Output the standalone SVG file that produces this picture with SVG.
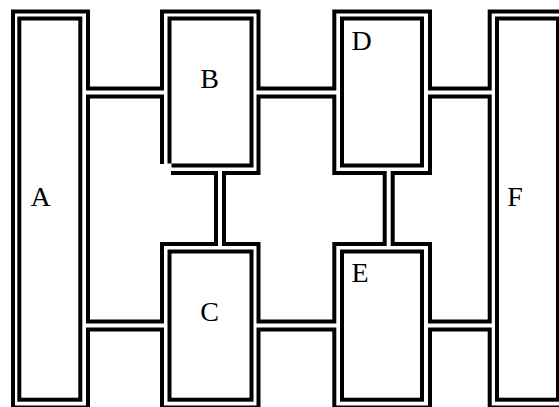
<svg xmlns="http://www.w3.org/2000/svg" width="559" height="407" viewBox="0 0 559 407">
<style>
.w{fill:none;stroke:#000;stroke-width:4;stroke-linejoin:miter}
.t{font-family:"Liberation Serif","Times New Roman",serif;font-size:28px;fill:#000}
</style>
<rect width="559" height="407" fill="#fff"/>
<g id="connectors" class="w">
<path d="M560,11.5 H489.7 V88.5 H430 V11.5 H334.3 V88.5 H258.5 V11.5 H162 V88.5 H88 V11.5 H13 V407.5 H88 V329.5 H162 V407.5 H258.5 V329.5 H334.3 V407.5 H430 V329.5 H489.7 V407.5 H560"/>
<path d="M162,164 V96.5 H88 V321.5 H162 V244 H216 V173 H171"/>
<path d="M258.5,96.5 V173 H224 V244 H258.5 V321.5 H334.3 V244 H384.7 V173 H334.3 V96.5 Z"/>
<path d="M430,96.5 V173 H392.7 V244 H430 V321.5 H489.7 V96.5 Z"/>
</g>
<g id="A"><rect class="w" x="19.3" y="18.5" width="61" height="381.2"/><text class="t" x="40.5" y="205.5" text-anchor="middle">A</text></g>
<g id="B"><path class="w" d="M169.5,163.5 V18.5 H251.5 V165.5 H171.5"/><text class="t" x="209.5" y="87.5" text-anchor="middle">B</text></g>
<g id="C"><rect class="w" x="169.5" y="251.5" width="82" height="148.2"/><text class="t" x="209.5" y="320.5" text-anchor="middle">C</text></g>
<g id="D"><rect class="w" x="342" y="18.5" width="80" height="147"/><text class="t" x="351.5" y="50">D</text></g>
<g id="E"><rect class="w" x="342" y="251.5" width="80" height="148.2"/><text class="t" x="351.5" y="281.5">E</text></g>
<g id="F"><rect class="w" x="497" y="18.5" width="61" height="381.2"/><text class="t" x="515" y="205.5" text-anchor="middle">F</text></g>
</svg>
